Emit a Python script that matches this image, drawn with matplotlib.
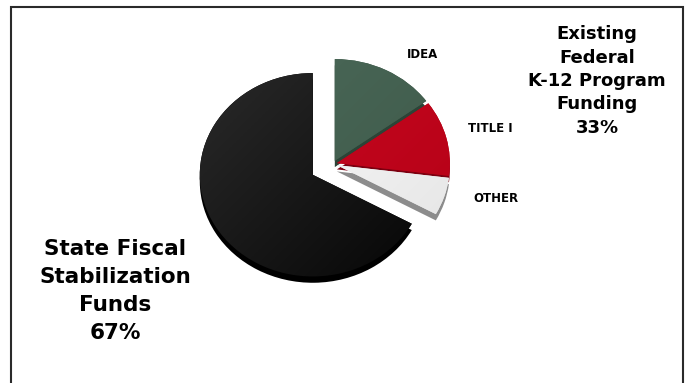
import numpy as np
import matplotlib.pyplot as plt
from matplotlib.patches import Rectangle
from matplotlib.transforms import Affine2D
from matplotlib.colors import LinearSegmentedColormap

# slice data, clockwise from 12 o'clock
slices = ['IDEA', 'TITLE I', 'OTHER', 'State Fiscal Stabilization Funds']
shares = [15, 12, 6, 67]
light_colors = ['#4d6b5b', '#cc0a22', '#ffffff', '#2e2e2e']
dark_colors = ['#3b5646', '#b20015', '#e2e2e2', '#000000']
side_colors = ['#2c4437', '#7c0010', '#8c8c8c', '#000000']

group_left = 'State Fiscal\nStabilization\nFunds\n67%'
group_right = 'Existing\nFederal\nK-12 Program\nFunding\n33%'

W, H = 690, 383
fig = plt.figure(figsize=(W / 100, H / 100), dpi=100)
ax = fig.add_axes([0, 0, 1, 1])

cx, cy = 333, H - 164
radius = 113
squash = 0.9
# explode in pixels (pie does not scale it by radius)
explode = [4, 4, 4, 23.5]
depth = 7

tilt = Affine2D().translate(-cx, -cy).scale(1, squash).translate(cx, cy)

# side of the "3d" slices
side, _ = ax.pie(shares, colors=side_colors, startangle=90, counterclock=False,
                 explode=explode, radius=radius, center=(cx, cy - depth),
                 wedgeprops=dict(linewidth=0))
top, _ = ax.pie(shares, colors=dark_colors, startangle=90, counterclock=False,
                explode=explode, radius=radius, center=(cx, cy),
                wedgeprops=dict(linewidth=0))

for w in side + top:
    w.set_transform(tilt + ax.transData)

# soft diagonal shading on each top face (light upper left, dark lower right)
g = np.linspace(0, 1, 200)
grad = (g[None, :] + g[:, None]) / 2
ext = [cx - radius - 25, cx + radius + 25, cy - radius - 25, cy + radius + 25]
for w, c1, c2 in zip(top, light_colors, dark_colors):
    cmap = LinearSegmentedColormap.from_list('s', [c1, c2])
    im = ax.imshow(grad, cmap=cmap, extent=ext, origin='upper',
                   interpolation='bilinear', zorder=w.get_zorder() + 0.1)
    im.set_clip_path(w)

ax.set_xlim(0, W)
ax.set_ylim(0, H)
ax.set_aspect('equal')
ax.axis('off')

# small slice labels
label_pos = [(423, 55), (490, 128), (496, 199)]
for name, (x, y) in zip(slices[:3], label_pos):
    ax.text(x, H - y, name, ha='center', va='center', fontsize=8.5,
            fontweight='bold', color='black', zorder=5)

ax.text(115, H - 291, group_left, ha='center', va='center', fontsize=15.5,
        fontweight='bold', linespacing=1.52, zorder=5)
ax.text(597, H - 81, group_right, ha='center', va='center', fontsize=13,
        fontweight='bold', linespacing=1.38, zorder=5)

ax.add_patch(Rectangle((10.5, -10), 672, H - 6.5 + 10, fill=False,
                       edgecolor='#2a2a2a', linewidth=1.5, clip_on=False))

fig.savefig('out.png', dpi=100)
